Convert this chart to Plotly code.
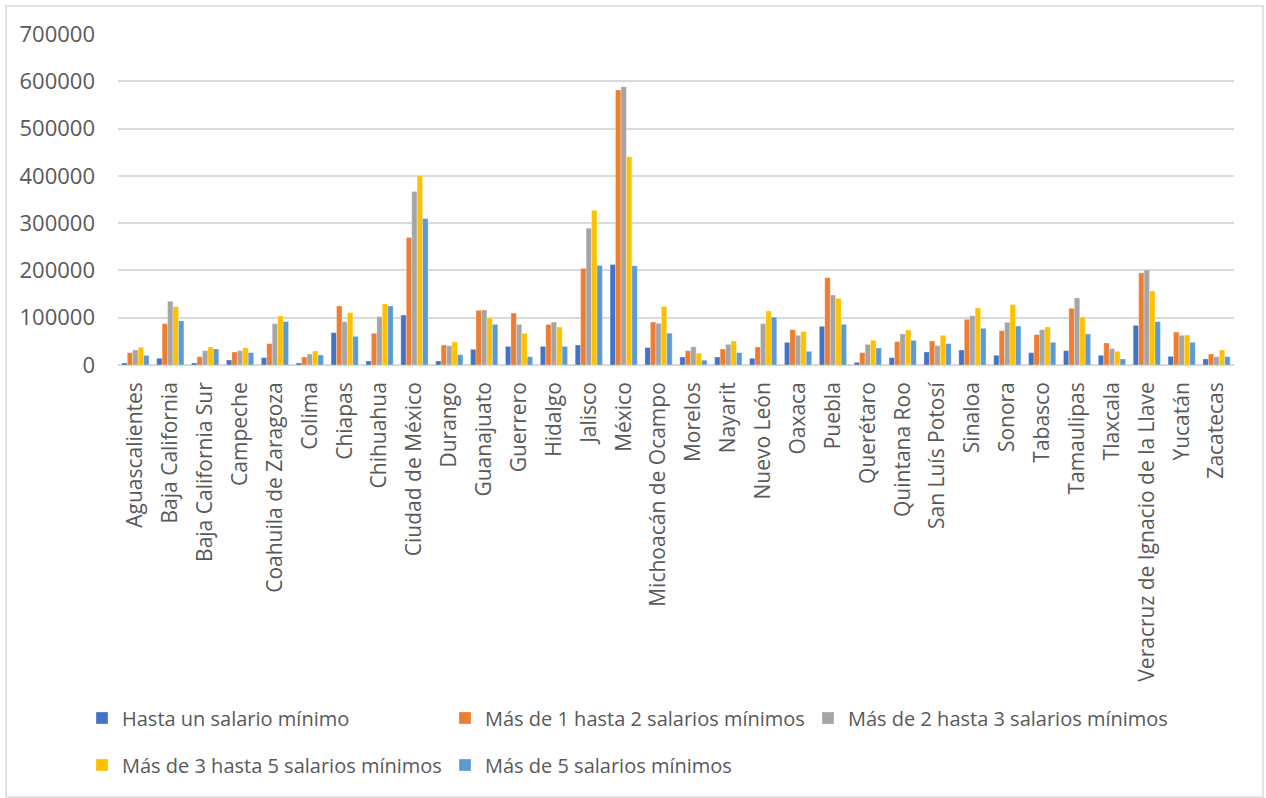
import plotly.graph_objects as go

estados = [
    "Aguascalientes", "Baja California", "Baja California Sur", "Campeche",
    "Coahuila de Zaragoza", "Colima", "Chiapas", "Chihuahua", "Ciudad de México",
    "Durango", "Guanajuato", "Guerrero", "Hidalgo", "Jalisco", "México",
    "Michoacán de Ocampo", "Morelos", "Nayarit", "Nuevo León", "Oaxaca", "Puebla",
    "Querétaro", "Quintana Roo", "San Luís Potosí", "Sinaloa", "Sonora", "Tabasco",
    "Tamaulipas", "Tlaxcala", "Veracruz de Ignacio de la Llave", "Yucatán", "Zacatecas",
]

hasta_1 = [
    4200, 14100, 4200, 10600, 15500, 4200, 68400, 8500, 105600,
    8400, 33100, 39400, 39400, 42200, 212600,
    37000, 16900, 16900, 14100, 47900, 81800,
    5600, 15500, 27500, 31700, 20400, 26100,
    30300, 20400, 83900, 18300, 12700,
]
de_1_a_2 = [
    26100, 87400, 17600, 27500, 45100, 16900, 124800, 67000, 269600,
    42200, 115500, 109800, 85900, 204200, 581600,
    90800, 30300, 33800, 38100, 74700, 184700,
    26100, 49400, 50800, 96600, 72600, 64200,
    119900, 46500, 194600, 69800, 23300,
]
de_2_a_3 = [
    31700, 134700, 30300, 30300, 87400, 23300, 91700, 102200, 366800,
    40800, 116200, 85900, 90800, 289300, 588700,
    88300, 38500, 43700, 87400, 62700, 148000,
    43700, 65600, 40900, 104300, 90200, 74700,
    141700, 34500, 200900, 62700, 17600,
]
de_3_a_5 = [
    37400, 123400, 38100, 36000, 103600, 29600, 110700, 129000, 400300,
    48600, 99300, 66900, 80300, 327400, 440600,
    124000, 25000, 50800, 114200, 71200, 141000,
    52200, 74000, 62700, 120600, 127600, 80400,
    101500, 28900, 156500, 63500, 31700,
]
mas_de_5 = [
    20400, 93100, 33800, 26100, 91700, 21200, 60600, 124800, 309800,
    21800, 85900, 17600, 39400, 210500, 209800,
    67300, 10300, 26100, 101500, 28900, 86000,
    36000, 52200, 45100, 77600, 82500, 47900,
    65600, 12700, 91700, 47900, 17600,
]

series = [
    ("Hasta un salario mínimo", hasta_1, "#4472C4", "legend"),
    ("Más de 1 hasta 2 salarios mínimos", de_1_a_2, "#ED7D31", "legend"),
    ("Más de 2 hasta 3 salarios mínimos", de_2_a_3, "#A5A5A5", "legend"),
    ("Más de 3 hasta 5 salarios mínimos", de_3_a_5, "#FFC000", "legend2"),
    ("Más de 5 salarios mínimos", mas_de_5, "#5B9BD5", "legend2"),
]

fig = go.Figure()
for nombre, valores, color, leyenda in series:
    fig.add_trace(go.Bar(
        name=nombre, x=estados, y=valores,
        marker=dict(color=color, line=dict(color="rgba(255,255,255,0.6)", width=0.5)),
        legend=leyenda,
    ))

W, H = 1266, 798
L, R, T, B = 118, 32, 34, 433
pw, ph = W - L - R, H - T - B

def px_x(px):
    return (px - L) / pw

def px_y(py):
    return (H - B - py) / ph

font = "Open Sans, DejaVu Sans, sans-serif"
legend_common = dict(
    orientation="h", xref="container", yref="container", xanchor="left", yanchor="middle",
    font=dict(family=font, size=20, color="#595959"), bgcolor="rgba(0,0,0,0)",
    entrywidth=318, entrywidthmode="pixels", itemwidth=30, traceorder="normal",
)

fig.update_layout(
    width=W, height=H,
    margin=dict(l=L, r=R, t=T, b=B, autoexpand=False),
    paper_bgcolor="white", plot_bgcolor="white",
    barmode="group", bargap=0.22, bargroupgap=0.0,
    font=dict(family=font, color="#595959"),
    legend=dict(x=82 / W, y=1 - 718 / H, **legend_common),
    legend2=dict(x=82 / W, y=1 - 765 / H, **legend_common),
    xaxis=dict(
        tickangle=-90, tickfont=dict(family=font, size=21, color="#595959"),
        showgrid=False, showline=False, ticks="", ticklabelstandoff=12,
        automargin=False,
    ),
    yaxis=dict(
        range=[0, 700000], dtick=100000, tickformat="d",
        tickfont=dict(family=font, size=22, color="#595959"),
        gridcolor="#D9D9D9", gridwidth=1.5, zeroline=True, zerolinecolor="#D9D9D9",
        zerolinewidth=1.5, showline=False, ticks="", ticklabelstandoff=22,
        automargin=False,
    ),
    shapes=[dict(
        type="rect", xref="paper", yref="paper",
        x0=px_x(6), x1=px_x(1263), y0=px_y(797), y1=px_y(6),
        line=dict(color="#D9D9D9", width=1.5), fillcolor="rgba(0,0,0,0)", layer="below",
    )],
)

fig.write_html("out.html")
